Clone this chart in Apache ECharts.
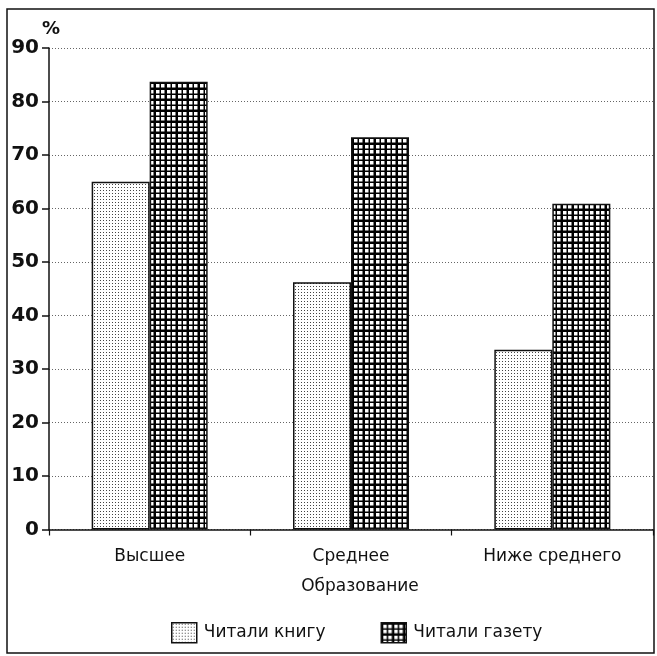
<!DOCTYPE html>
<html>
<head>
<meta charset="utf-8">
<script src="https://cdn.jsdelivr.net/npm/echarts@6/dist/echarts.min.js"></script>
<style>
  body { margin: 0; background: #fff; }
  #main { width: 657px; height: 656px; }
</style>
</head>
<body>
<div id="main"></div>
<script>
// данные с диаграммы
const categories = ['Высшее', 'Среднее', 'Ниже среднего'];
const readBooks = [65, 46.2, 33.6];
const readNewspapers = [83.7, 73.3, 60.9];
const seriesNames = ['Читали книгу', 'Читали газету'];
const yTicks = [0, 10, 20, 30, 40, 50, 60, 70, 80, 90];

const FONT = 'DejaVu Sans';

// мелкие точки для светлых столбиков
function dotPattern() {
  const c = document.createElement('canvas');
  c.width = 3; c.height = 3;
  const ctx = c.getContext('2d');
  ctx.fillStyle = '#fff';
  ctx.fillRect(0, 0, 3, 3);
  ctx.fillStyle = '#444';
  ctx.fillRect(1, 1, 1, 1);
  return c;
}

// клетка для тёмных столбиков
function gridPattern() {
  const c = document.createElement('canvas');
  c.width = 11; c.height = 11;
  const ctx = c.getContext('2d');
  ctx.fillStyle = '#000';
  ctx.fillRect(0, 0, 11, 11);
  ctx.fillStyle = '#fff';
  [2, 7].forEach(function (x) {
    [2, 7].forEach(function (y) {
      ctx.fillRect(x, y, 3.5, 3.5);
    });
  });
  return c;
}

const lightFill = { image: dotPattern(), repeat: 'repeat' };
const darkFill = { image: gridPattern(), repeat: 'repeat' };

let myChart = echarts.init(document.getElementById('main'));

let option = {
  backgroundColor: '#fff',
  animation: false,
  textStyle: { fontFamily: FONT, color: '#111' },
  graphic: [
    {
      type: 'rect',
      shape: { x: 7, y: 9, width: 647, height: 644 },
      style: { fill: 'none', stroke: '#111', lineWidth: 1.5 },
      silent: true
    }
  ],
  legend: {
    left: 166,
    top: 617,
    icon: 'rect',
    itemWidth: 25,
    itemHeight: 20,
    itemGap: 55,
    textStyle: { fontFamily: FONT, fontSize: 17, color: '#111', padding: [0, 0, 0, 2] },
    itemStyle: { borderColor: '#111', borderWidth: 1.5 },
    data: seriesNames
  },
  grid: {
    left: 49,
    top: 48,
    width: 604,
    height: 481.5
  },
  xAxis: {
    type: 'category',
    data: categories,
    name: 'Образование',
    nameLocation: 'middle',
    nameGap: 49,
    nameTextStyle: { fontFamily: FONT, fontSize: 17, color: '#111', padding: [0, 0, 0, 18] },
    axisLine: { lineStyle: { color: '#111', width: 1.5 } },
    axisTick: { show: true, length: 6, lineStyle: { color: '#111', width: 1.2 } },
    axisLabel: { fontFamily: FONT, fontSize: 17, color: '#111', margin: 19 },
    splitLine: { show: false }
  },
  yAxis: {
    type: 'value',
    min: yTicks[0],
    max: yTicks[yTicks.length - 1],
    interval: 10,
    name: '%',
    nameLocation: 'end',
    nameGap: 6,
    nameTextStyle: { fontFamily: FONT, fontSize: 18, fontWeight: 'bold', color: '#111', align: 'left', padding: [0, 0, 0, -7] },
    axisLine: { show: true, lineStyle: { color: '#111', width: 1.5 } },
    axisTick: { show: true, length: 7, lineStyle: { color: '#111', width: 1.5 } },
    axisLabel: { fontFamily: FONT, fontSize: 20, fontWeight: 'bold', color: '#111', margin: 10 },
    splitLine: { show: true, lineStyle: { color: '#666', width: 1, type: [1, 2] } }
  },
  series: [
    {
      name: seriesNames[0],
      type: 'bar',
      data: readBooks,
      barWidth: 58,
      barGap: '0%',
      itemStyle: { color: lightFill, borderColor: '#111', borderWidth: 1.5 }
    },
    {
      name: seriesNames[1],
      type: 'bar',
      data: readNewspapers,
      barWidth: 58,
      barGap: '0%',
      itemStyle: { color: darkFill, borderColor: '#111', borderWidth: 1.5 }
    }
  ]
};

myChart.setOption(option);
</script>
</body>
</html>
